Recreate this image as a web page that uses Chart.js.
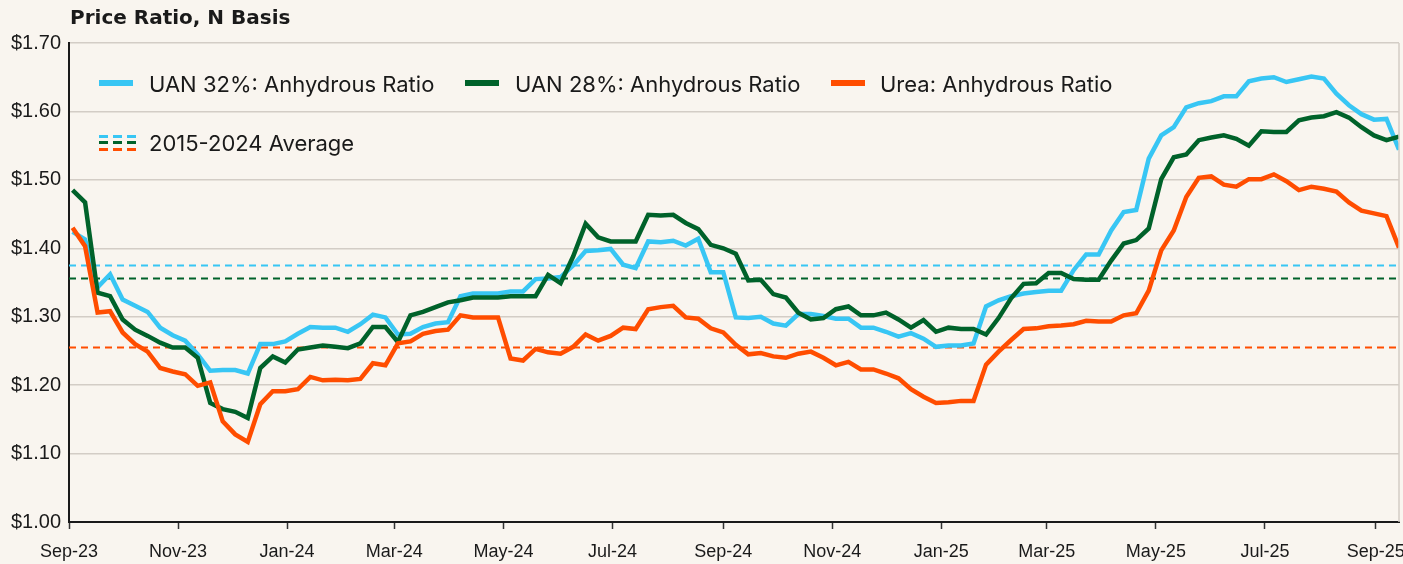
<!DOCTYPE html>
<html lang="en">
<head>
    <meta charset="UTF-8">
    <title>Price Ratio, N Basis</title>
    <script src="https://cdn.jsdelivr.net/npm/chart.js"></script>
    <style>
        body {
            margin: 0;
            padding: 0;
            background-color: #f9f5ef;
        }

        .wrap {
            position: relative;
            width: 1403px;
            height: 564px;
            background-color: #f9f5ef;
        }

        .title {
            position: absolute;
            left: 70px;
            top: 5px;
            font-family: "DejaVu Sans", Inter, sans-serif;
            font-weight: 700;
            font-size: 20px;
            line-height: 24px;
            color: #1a1a1a;
        }

        .legend-item {
            position: absolute;
            font-family: Inter, "Noto Sans", sans-serif;
            font-size: 22px;
            color: #1a1a1a;
            line-height: 24px;
            white-space: nowrap;
        }

        .swatch {
            position: absolute;
            width: 34px;
            height: 6px;
        }

        .dash {
            position: absolute;
            width: 38px;
            height: 3px;
        }
    </style>
</head>
<body>
    <div class="wrap">
        <canvas id="ratioChart"></canvas>
        <div class="title">Price Ratio, N Basis</div>

        <div class="swatch" style="left:99px; top:80px; background:#38c6f4;"></div>
        <div class="legend-item" style="left:149px; top:72px;">UAN 32%: Anhydrous Ratio</div>
        <div class="swatch" style="left:465px; top:80px; background:#00622a;"></div>
        <div class="legend-item" style="left:515px; top:72px;">UAN 28%: Anhydrous Ratio</div>
        <div class="swatch" style="left:831px; top:80px; background:#ff4d00;"></div>
        <div class="legend-item" style="left:880px; top:72px;">Urea: Anhydrous Ratio</div>

        <div class="dash" style="left:99px; top:135px; background:repeating-linear-gradient(90deg,#38c6f4 0 9px,transparent 9px 14px);"></div>
        <div class="dash" style="left:99px; top:141px; background:repeating-linear-gradient(90deg,#00622a 0 9px,transparent 9px 14px);"></div>
        <div class="dash" style="left:99px; top:148px; background:repeating-linear-gradient(90deg,#ff4d00 0 9px,transparent 9px 14px);"></div>
        <div class="legend-item" style="left:149px; top:131px;">2015-2024 Average</div>
    </div>

    <script>
        // weekly series, first week starts 3 Sep 2023
        const uan32 = [
            1.424, 1.413, 1.343, 1.362, 1.325, 1.316, 1.307, 1.284, 1.273, 1.265,
            1.245, 1.221, 1.222, 1.222, 1.217, 1.260, 1.260, 1.264, 1.275, 1.285,
            1.284, 1.284, 1.278, 1.289, 1.303, 1.299, 1.274, 1.275, 1.285, 1.290,
            1.292, 1.330, 1.334, 1.334, 1.334, 1.337, 1.337, 1.355, 1.356, 1.358,
            1.375, 1.396, 1.397, 1.399, 1.376, 1.371, 1.410, 1.409, 1.411, 1.404,
            1.414, 1.365, 1.365, 1.299, 1.298, 1.300, 1.290, 1.287, 1.304, 1.304,
            1.301, 1.297, 1.297, 1.284, 1.284, 1.278, 1.271, 1.276, 1.268, 1.256,
            1.258, 1.258, 1.261, 1.315, 1.324, 1.330, 1.334, 1.336, 1.338, 1.338,
            1.368, 1.391, 1.391, 1.426, 1.453, 1.456, 1.531, 1.565, 1.577, 1.606,
            1.612, 1.615, 1.622, 1.622, 1.644, 1.648, 1.650, 1.643, 1.647, 1.651,
            1.648, 1.626, 1.609, 1.596, 1.588, 1.589, 1.544
        ];
        const uan28 = [
            1.485, 1.467, 1.335, 1.330, 1.296, 1.281, 1.272, 1.262, 1.255, 1.255,
            1.240, 1.174, 1.165, 1.161, 1.152, 1.225, 1.242, 1.233, 1.252, 1.255,
            1.258, 1.256, 1.254, 1.261, 1.285, 1.285, 1.263, 1.302, 1.307, 1.314,
            1.321, 1.324, 1.328, 1.328, 1.328, 1.330, 1.330, 1.330, 1.361, 1.349,
            1.388, 1.436, 1.416, 1.410, 1.410, 1.410, 1.449, 1.448, 1.449, 1.437,
            1.428, 1.405, 1.400, 1.392, 1.353, 1.354, 1.333, 1.328, 1.306, 1.296,
            1.298, 1.311, 1.315, 1.302, 1.302, 1.306, 1.296, 1.284, 1.295, 1.278,
            1.284, 1.282, 1.282, 1.274, 1.298, 1.327, 1.348, 1.349, 1.364, 1.364,
            1.355, 1.354, 1.354, 1.382, 1.407, 1.412, 1.429, 1.501, 1.533, 1.537,
            1.558, 1.562, 1.565, 1.560, 1.550, 1.571, 1.570, 1.570, 1.587, 1.591,
            1.593, 1.599, 1.591, 1.577, 1.565, 1.558, 1.563
        ];
        const urea = [
            1.430, 1.403, 1.306, 1.308, 1.277, 1.260, 1.249, 1.225, 1.220, 1.216,
            1.199, 1.204, 1.147, 1.128, 1.117, 1.172, 1.191, 1.191, 1.194, 1.212,
            1.207, 1.208, 1.207, 1.209, 1.232, 1.229, 1.261, 1.264, 1.275, 1.279,
            1.281, 1.302, 1.299, 1.299, 1.299, 1.239, 1.236, 1.253, 1.248, 1.246,
            1.256, 1.274, 1.265, 1.272, 1.284, 1.282, 1.311, 1.314, 1.316, 1.299,
            1.297, 1.283, 1.277, 1.259, 1.245, 1.247, 1.242, 1.240, 1.246, 1.249,
            1.240, 1.229, 1.234, 1.223, 1.223, 1.217, 1.210, 1.194, 1.183, 1.174,
            1.175, 1.177, 1.177, 1.230, 1.249, 1.266, 1.282, 1.283, 1.286, 1.287,
            1.289, 1.294, 1.293, 1.293, 1.302, 1.305, 1.338, 1.397, 1.426, 1.475,
            1.503, 1.505, 1.493, 1.490, 1.501, 1.501, 1.508, 1.498, 1.485, 1.490,
            1.487, 1.483, 1.467, 1.455, 1.451, 1.447, 1.401
        ];

        // 2015-2024 averages
        const avgUan32 = 1.375;
        const avgUan28 = 1.356;
        const avgUrea = 1.255;

        const tickLabels = ['Sep-23', 'Nov-23', 'Jan-24', 'Mar-24', 'May-24', 'Jul-24', 'Sep-24',
            'Nov-24', 'Jan-25', 'Mar-25', 'May-25', 'Jul-25', 'Sep-25'];
        const tickMonths = [[2023, 8], [2023, 10], [2024, 0], [2024, 2], [2024, 4], [2024, 6], [2024, 8],
            [2024, 10], [2025, 0], [2025, 2], [2025, 4], [2025, 6], [2025, 8]];

        // x axis counts days from 1 Sep 2023
        const origin = Date.UTC(2023, 8, 1);
        const dayMs = 86400000;
        const firstWeek = Date.UTC(2023, 8, 3);
        const weekDays = uan32.map((_, i) => (firstWeek - origin) / dayMs + 7 * i);
        const tickDays = tickMonths.map(m => (Date.UTC(m[0], m[1], 1) - origin) / dayMs);
        const lastDay = weekDays[weekDays.length - 1];

        const toPoints = arr => arr.map((v, i) => ({ x: weekDays[i], y: v }));
        const flat = v => [{ x: 0, y: v }, { x: lastDay, y: v }];

        const cyan = '#38c6f4';
        const green = '#00622a';
        const orange = '#ff4d00';

        const lineStyle = (color, order) => ({
            borderColor: color,
            backgroundColor: color,
            borderWidth: 4.5,
            pointRadius: 0,
            tension: 0,
            order: order
        });
        const dashStyle = color => ({
            borderColor: color,
            borderWidth: 2,
            borderDash: [7, 5],
            pointRadius: 0,
            order: 10
        });

        // right border of the plot
        const frame = {
            id: 'frame',
            afterDatasetsDraw(chart) {
                const a = chart.chartArea;
                const ctx = chart.ctx;
                ctx.save();
                ctx.strokeStyle = '#d3cdc6';
                ctx.lineWidth = 1.5;
                ctx.beginPath();
                ctx.moveTo(a.right, a.top);
                ctx.lineTo(a.right, a.bottom);
                ctx.stroke();
                ctx.restore();
            }
        };

        Chart.defaults.font.family = '"Liberation Sans", Arial, sans-serif';
        Chart.defaults.color = '#1a1a1a';

        new Chart(document.getElementById('ratioChart'), {
            type: 'line',
            data: {
                datasets: [
                    Object.assign({ label: 'UAN 32%: Anhydrous Ratio', data: toPoints(uan32) }, lineStyle(cyan, 3)),
                    Object.assign({ label: 'UAN 28%: Anhydrous Ratio', data: toPoints(uan28) }, lineStyle(green, 2)),
                    Object.assign({ label: 'Urea: Anhydrous Ratio', data: toPoints(urea) }, lineStyle(orange, 1)),
                    Object.assign({ label: 'UAN 32% Average', data: flat(avgUan32) }, dashStyle(cyan)),
                    Object.assign({ label: 'UAN 28% Average', data: flat(avgUan28) }, dashStyle(green)),
                    Object.assign({ label: 'Urea Average', data: flat(avgUrea) }, dashStyle(orange))
                ]
            },
            options: {
                responsive: true,
                maintainAspectRatio: false,
                devicePixelRatio: 1,
                animation: false,
                layout: {
                    padding: { top: 43, right: 4, left: 0, bottom: 0 }
                },
                plugins: {
                    legend: { display: false },
                    tooltip: { enabled: false }
                },
                scales: {
                    x: {
                        type: 'linear',
                        min: 0,
                        max: lastDay,
                        afterBuildTicks: scale => {
                            scale.ticks = tickDays.map(d => ({ value: d }));
                        },
                        afterFit: scale => {
                            scale.height = 42;
                            scale.paddingLeft = 0;
                            scale.paddingRight = 0;
                        },
                        ticks: {
                            autoSkip: false,
                            maxRotation: 0,
                            padding: 12,
                            font: { size: 18 },
                            callback: (v, i) => tickLabels[i]
                        },
                        grid: {
                            drawOnChartArea: false,
                            drawTicks: true,
                            tickLength: 7,
                            tickColor: '#333333',
                            tickWidth: 1.5
                        },
                        border: { color: '#1a1a1a', width: 2 }
                    },
                    y: {
                        min: 1.0,
                        max: 1.7,
                        afterFit: scale => {
                            scale.width = 69;
                            scale.paddingTop = 0;
                            scale.paddingBottom = 0;
                        },
                        ticks: {
                            stepSize: 0.1,
                            padding: 8,
                            font: { size: 20 },
                            callback: v => '$' + v.toFixed(2)
                        },
                        grid: {
                            color: '#d3cdc6',
                            lineWidth: 1.5,
                            drawTicks: false
                        },
                        border: { color: '#1a1a1a', width: 2 }
                    }
                }
            },
            plugins: [frame]
        });
    </script>
</body>
</html>
